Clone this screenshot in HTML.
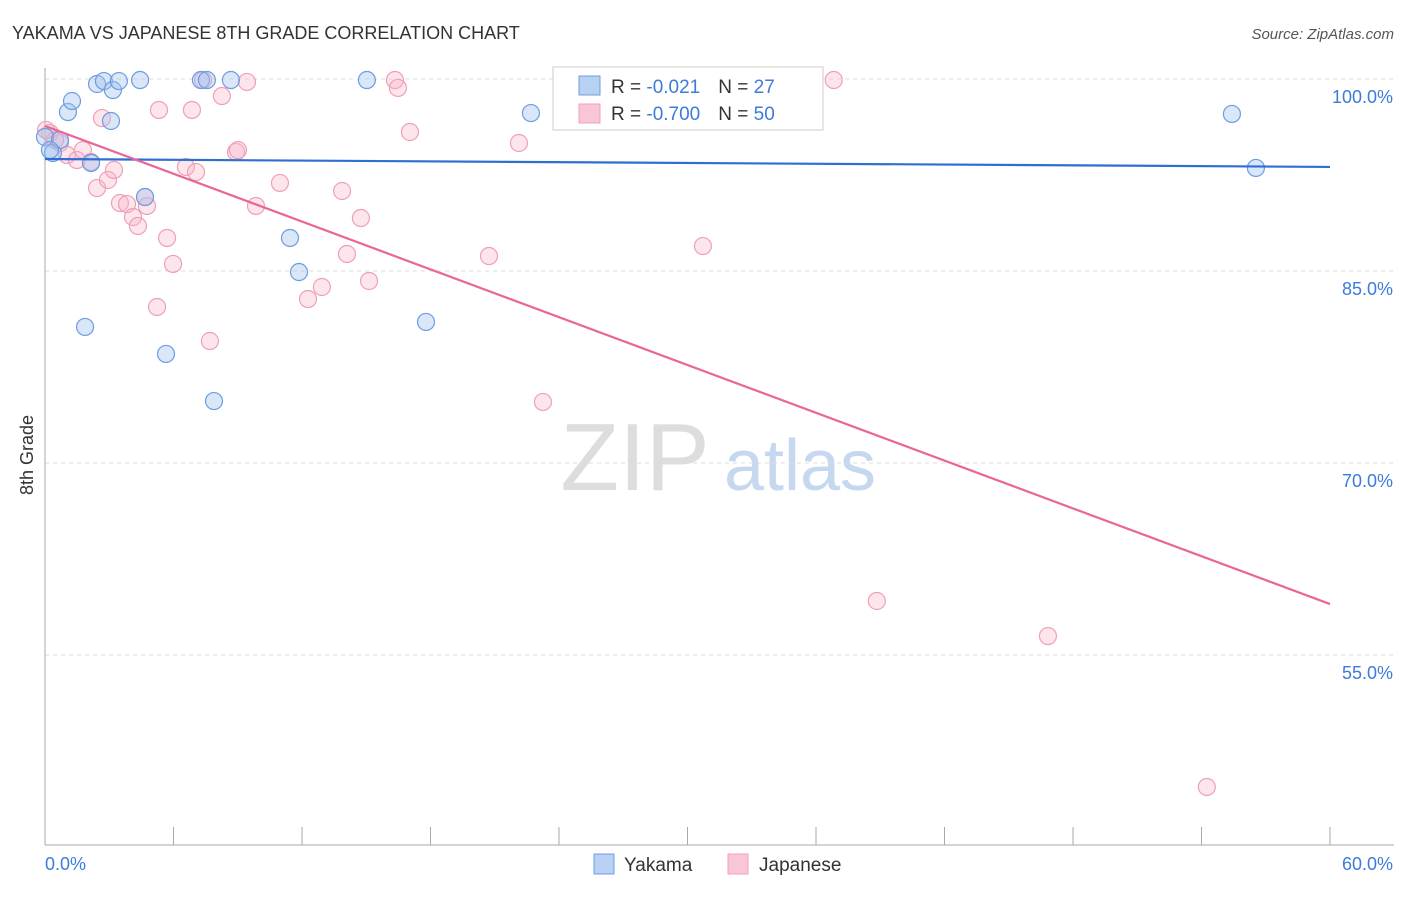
<!DOCTYPE html>
<html><head><meta charset="utf-8"><style>
body{margin:0;background:#fff;font-family:"Liberation Sans",sans-serif}
svg text{font-family:"Liberation Sans",sans-serif}
</style></head><body>
<svg width="1406" height="892" xmlns="http://www.w3.org/2000/svg" id="chart">
<text x="12" y="39" font-size="18" fill="#333">YAKAMA VS JAPANESE 8TH GRADE CORRELATION CHART</text>
<text x="1394" y="39" font-size="15" fill="#555" text-anchor="end" font-style="italic">Source: ZipAtlas.com</text>
<text x="33" y="455" font-size="18" fill="#333" text-anchor="middle" transform="rotate(-90 33 455)">8th Grade</text>
<g><text x="635" y="490" font-size="96" fill="#ddd" text-anchor="middle" font-family="Liberation Serif">ZIP</text><text x="800" y="490" font-size="72" fill="#c5d8f0" text-anchor="middle">atlas</text></g>
<g id="grid"></g>
<g id="axes"></g>
<g id="pts"></g>
<g id="trend"></g>
<g>
<rect x="553" y="67" width="270" height="63" fill="#fff" stroke="#ccc"/>
<rect x="579" y="76" width="21" height="19" fill="#b8d0f2" stroke="#6d9de0"/>
<rect x="579" y="104" width="21" height="19" fill="#f9c6d6" stroke="#eea0b8"/>
<text x="611" y="93" font-size="19" fill="#333">R = <tspan fill="#3d7bd9"> -0.021</tspan><tspan dx="18" fill="#333">N = </tspan><tspan fill="#3d7bd9"> 27</tspan></text>
<text x="611" y="120" font-size="19" fill="#333">R = <tspan fill="#3d7bd9">-0.700</tspan><tspan dx="18" fill="#333">N = </tspan><tspan fill="#3d7bd9">50</tspan></text>
</g>
<g>
<rect x="594" y="854" width="20" height="20" fill="#b8d0f2" stroke="#6d9de0"/>
<text x="624" y="871" font-size="19" fill="#333">Yakama</text>
<rect x="728" y="854" width="20" height="20" fill="#f9c6d6" stroke="#eea0b8"/>
<text x="759" y="871" font-size="19" fill="#333">Japanese</text>
</g>
</svg>
<script>
const yTicks=[100,85,70,55];
const xTickLabels=["0.0%","60.0%"];
const yakamaX=[0,0.37,0.70,1.07,1.26,2.43,2.75,3.17,3.45,4.44,3.08,2.15,4.67,7.28,7.56,8.68,15.03,22.69,55.42,56.54,11.44,11.86,1.87,5.65,17.79,7.89,0.23];
const yakamaY=[95.47,94.22,95.23,97.42,98.28,99.61,99.84,99.14,99.84,99.92,96.72,93.44,90.78,99.92,99.92,99.92,99.92,97.34,97.27,93.05,87.58,84.92,80.63,78.52,81.02,74.84,94.45];
const japX=[0.23,0.70,1.03,1.49,1.77,2.15,2.43,2.66,2.94,3.22,3.50,3.83,4.11,4.34,4.76,4.67,5.32,5.70,5.98,5.23,6.58,6.86,7.05,7.38,8.26,8.92,9.01,9.43,9.85,10.97,7.70,12.28,12.93,13.87,14.10,14.75,15.13,16.34,16.48,17.04,20.73,22.13,23.25,30.72,36.83,38.84,46.83,54.25,0.47,0.05];
const japY=[95.78,95.0,94.06,93.67,94.45,93.52,91.48,96.95,92.11,92.89,90.31,90.23,89.22,88.52,90.08,90.78,97.58,87.58,85.55,82.19,93.13,97.58,92.73,99.92,98.67,94.30,94.45,99.77,90.08,91.88,79.53,82.81,83.75,91.25,86.33,89.14,84.22,99.92,99.30,95.86,86.17,95.0,74.77,86.95,99.92,59.22,56.48,44.69,95.23,96.02];
const yakamaTrend=[93.75,93.13];
const japTrend=[96.33,58.98];
const xs=v=>45+v*(1285/60);
const ys=v=>79+(100-v)*12.8;
const NS="http://www.w3.org/2000/svg";
function mk(t,a,p){const e=document.createElementNS(NS,t);for(const k in a)e.setAttribute(k,a[k]);p.appendChild(e);return e;}
const grid=document.getElementById('grid'),axes=document.getElementById('axes'),pts=document.getElementById('pts'),tr=document.getElementById('trend');
yTicks.forEach(t=>{
 const l=mk('line',{x1:45,x2:1394,y1:ys(t),y2:ys(t),stroke:'#ddd','stroke-dasharray':'4,4'},grid);
 
 
 const tx=mk('text',{x:1393,y:ys(t)+24,'font-size':18,fill:'#3d7bd9','text-anchor':'end'},grid);
 tx.textContent=t.toFixed(1)+'%';
 
 
});
mk('line',{x1:45,x2:45,y1:68,y2:845,stroke:'#aaa'},axes);
mk('line',{x1:45,x2:1394,y1:845,y2:845,stroke:'#aaa'},axes);
for(let i=0;i<=10;i++){const t=mk('line',{x1:xs(i*6),x2:xs(i*6),y1:827,y2:845,stroke:'#aaa'},axes);
 
 }
const xl0=mk('text',{x:45,y:870,'font-size':18,fill:'#3d7bd9'},axes);xl0.textContent=xTickLabels[0];


const xl1=mk('text',{x:1393,y:870,'font-size':18,fill:'#3d7bd9','text-anchor':'end'},axes);xl1.textContent=xTickLabels[1];


japX.forEach((x,i)=>{const c=mk('circle',{cx:xs(x),cy:ys(japY[i]),r:8.5,fill:'rgba(248,180,200,0.35)',stroke:'#eea0b8','stroke-width':1.2},pts);
 
 });
yakamaX.forEach((x,i)=>{const c=mk('circle',{cx:xs(x),cy:ys(yakamaY[i]),r:8.5,fill:'rgba(160,195,240,0.4)',stroke:'#6d9de0','stroke-width':1.2},pts);
 
 });
const lb=mk('line',{x1:xs(0),x2:xs(60),y1:ys(yakamaTrend[0]),y2:ys(yakamaTrend[1]),stroke:'#2e6fd4','stroke-width':2.2},tr);


const lp=mk('line',{x1:xs(0),x2:xs(60),y1:ys(japTrend[0]),y2:ys(japTrend[1]),stroke:'#e8669a','stroke-width':2.2},tr);


</script>
</body></html>
